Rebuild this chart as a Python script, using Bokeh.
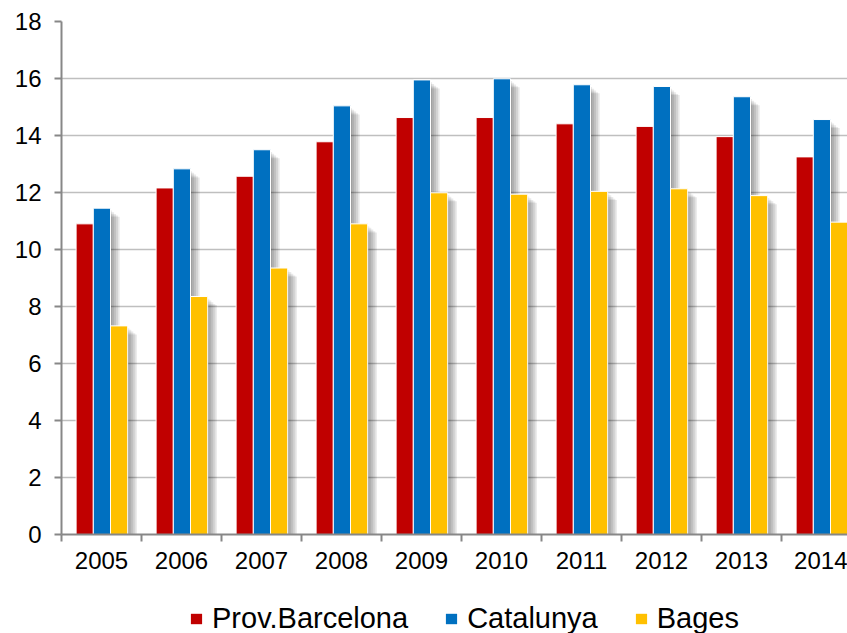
import numpy as np
from bokeh.plotting import figure
from bokeh.layouts import column
from bokeh.models import Range1d, FixedTicker, Legend, LegendItem, ColumnDataSource
from bokeh.embed import file_html
from bokeh.resources import INLINE

years = ["2005", "2006", "2007", "2008", "2009", "2010", "2011", "2012", "2013", "2014"]
prov_barcelona = [10.90, 12.16, 12.57, 13.78, 14.63, 14.63, 14.41, 14.32, 13.96, 13.25]
catalunya = [11.45, 12.83, 13.50, 15.04, 15.95, 15.99, 15.78, 15.72, 15.36, 14.56]
bages = [7.32, 8.35, 9.35, 10.90, 11.99, 11.94, 12.04, 12.13, 11.89, 10.96]
series_names = ["Prov.Barcelona", "Catalunya", "Bages"]
colors = ["#C00000", "#0070C0", "#FFC000"]
y_ticks = list(range(0, 19, 2))

FONT = "Liberation Sans"

p = figure(width=847, height=585, output_backend="svg", toolbar_location=None,
           x_range=Range1d(0, 9.825), y_range=Range1d(0, 18),
           min_border_left=61, min_border_right=0, min_border_top=21, min_border_bottom=51)
p.outline_line_color = None
p.background_fill_color = "white"
p.border_fill_color = "white"

centers = np.arange(len(years)) + 0.5
offsets = [-0.21, 0.005, 0.22]
bw = 0.215
all_vals = [prov_barcelona, catalunya, bages]

# soft shadows
for vals, off in zip(all_vals, offsets):
    v = np.array(vals)
    for dx, dy in [(0.02, 0.08), (0.045, 0.14), (0.07, 0.2), (0.095, 0.26), (0.115, 0.3)]:
        src = ColumnDataSource(dict(x=centers + off + dx, top=v - dy))
        p.vbar(x="x", top="top", bottom=-0.2, width=bw, source=src,
               fill_color="black", fill_alpha=0.085, line_color=None)

renderers = []
for vals, off, c in zip(all_vals, offsets, colors):
    src = ColumnDataSource(dict(x=centers + off, top=vals))
    r = p.vbar(x="x", top="top", bottom=0, width=bw, source=src,
               fill_color=c, line_color="white", line_width=1)
    renderers.append(r)

# axes
p.yaxis.ticker = FixedTicker(ticks=y_ticks)
p.xaxis.ticker = FixedTicker(ticks=list(centers), minor_ticks=list(range(len(years) + 1)))
p.xaxis.major_label_overrides = {float(c): y for c, y in zip(centers, years)}
for ax in [p.xaxis[0], p.yaxis[0]]:
    ax.axis_line_color = "#878787"
    ax.axis_line_width = 2
    ax.major_label_text_font = FONT
    ax.major_label_text_font_size = "24px"
    ax.major_label_text_color = "black"
p.yaxis.major_tick_line_color = "#878787"
p.yaxis.major_tick_line_width = 2
p.yaxis.major_tick_out = 7
p.yaxis.major_tick_in = 0
p.yaxis.minor_tick_line_color = None
p.yaxis.major_label_standoff = 13
p.xaxis.major_tick_line_color = None
p.xaxis.minor_tick_line_color = "#878787"
p.xaxis.minor_tick_line_width = 2
p.xaxis.minor_tick_out = 7
p.xaxis.minor_tick_in = 0
p.xaxis.major_label_standoff = 10

p.xgrid.grid_line_color = None
p.ygrid.grid_line_color = "#BFBFBF"
p.ygrid.grid_line_width = 1.5

# legend strip below the chart
lf = figure(width=847, height=48, output_backend="svg", toolbar_location=None,
            x_range=Range1d(0, 1), y_range=Range1d(0, 1),
            min_border=0)
lf.outline_line_color = None
lf.axis.visible = False
lf.grid.visible = False
leg_renderers = []
for c in colors:
    src = ColumnDataSource(dict(x=[-10], top=[-10]))
    leg_renderers.append(lf.vbar(x="x", top="top", bottom=-11, width=0.1, source=src,
                                 fill_color=c, line_color=None))
legend = Legend(items=[LegendItem(label=n, renderers=[r]) for n, r in zip(series_names, leg_renderers)],
                orientation="horizontal", location=(128, -2))
legend.label_text_font = FONT
legend.label_text_font_size = "29px"
legend.label_text_color = "black"
legend.glyph_width = 14
legend.glyph_height = 13
legend.label_standoff = 9
legend.spacing = 36
legend.padding = 0
legend.margin = 0
legend.border_line_color = None
legend.background_fill_alpha = 0
lf.add_layout(legend, "center")

layout = column(p, lf, spacing=0)
open("out.html", "w").write(file_html(layout, INLINE))
